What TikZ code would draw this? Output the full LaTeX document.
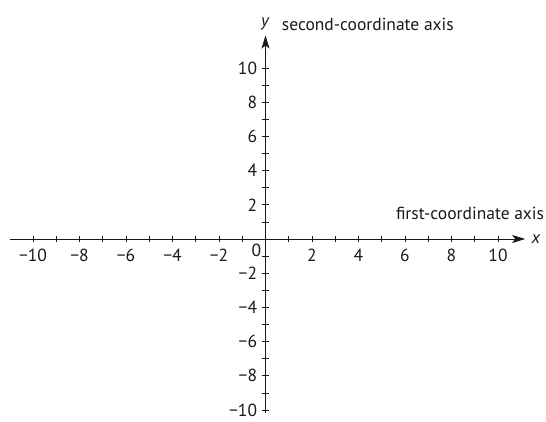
\documentclass[tikz,border=0pt]{standalone}
\usepackage{fontspec}
\setmainfont{PT Sans}
\usetikzlibrary{arrows.meta}
\begin{document}
\begin{tikzpicture}[x=23.25pt, y=17.1pt, line width=0.9pt,
  font=\fontsize{17.5}{20}\selectfont, color=black!90]
  \useasboundingbox (-265.5pt,-182pt) rectangle (280.5pt,239pt);
  \coordinate (O) at (0,0);
  \coordinate (xl) at (-10.99,0);
  \coordinate (xr) at (11.17,0);
  \coordinate (yb) at (0,-10.15);
  \coordinate (yt) at (0,11.9);
  \draw[-{Stealth[length=13pt,width=8pt,inset=3pt]}] (xl) -- (xr);
  \draw[-{Stealth[length=13pt,width=8pt,inset=3pt]}] (yb) -- (yt);
  \foreach \k in {-10,...,-1,1,2,...,10} {
    \draw[line width=0.7pt] (\k,0) ++(0,-3pt) -- ++(0,6pt);
    \draw[line width=0.7pt] (0,\k) ++(-3pt,0) -- ++(6pt,0);
  }
  \foreach \k in {-10,-8,...,-2} {
    \node[anchor=north, inner sep=0pt] (xt\k) at ([yshift=-10pt]\k,0) {−\the\numexpr-\k\relax};
    \node[anchor=east, inner sep=0pt] (yt\k) at ([xshift=-8pt]0,\k) {−\the\numexpr-\k\relax};
  }
  \foreach \k in {2,4,...,10} {
    \node[anchor=north, inner sep=0pt] (xt\k) at ([yshift=-10pt]\k,0) {\k};
    \node[anchor=east, inner sep=0pt] (yt\k) at ([xshift=-8pt]0,\k) {\k};
  }
  \node[anchor=north east, inner sep=0pt] (zero) at ([xshift=-4pt,yshift=-5pt]O) {0};
  \node[anchor=west, inner sep=0pt] (xname) at ([xshift=6pt]xr) {\textit{x}};
  \node[anchor=south, inner sep=0pt] (yname) at ([yshift=5pt]yt) {\textit{y}};
  \node[anchor=base east, inner sep=0pt] (xaxis) at (279pt,20pt) {first-coordinate axis};
  \node[anchor=base west, inner sep=0pt] (yaxis) at (16pt,208pt) {second-coordinate axis};
\end{tikzpicture}
\end{document}
